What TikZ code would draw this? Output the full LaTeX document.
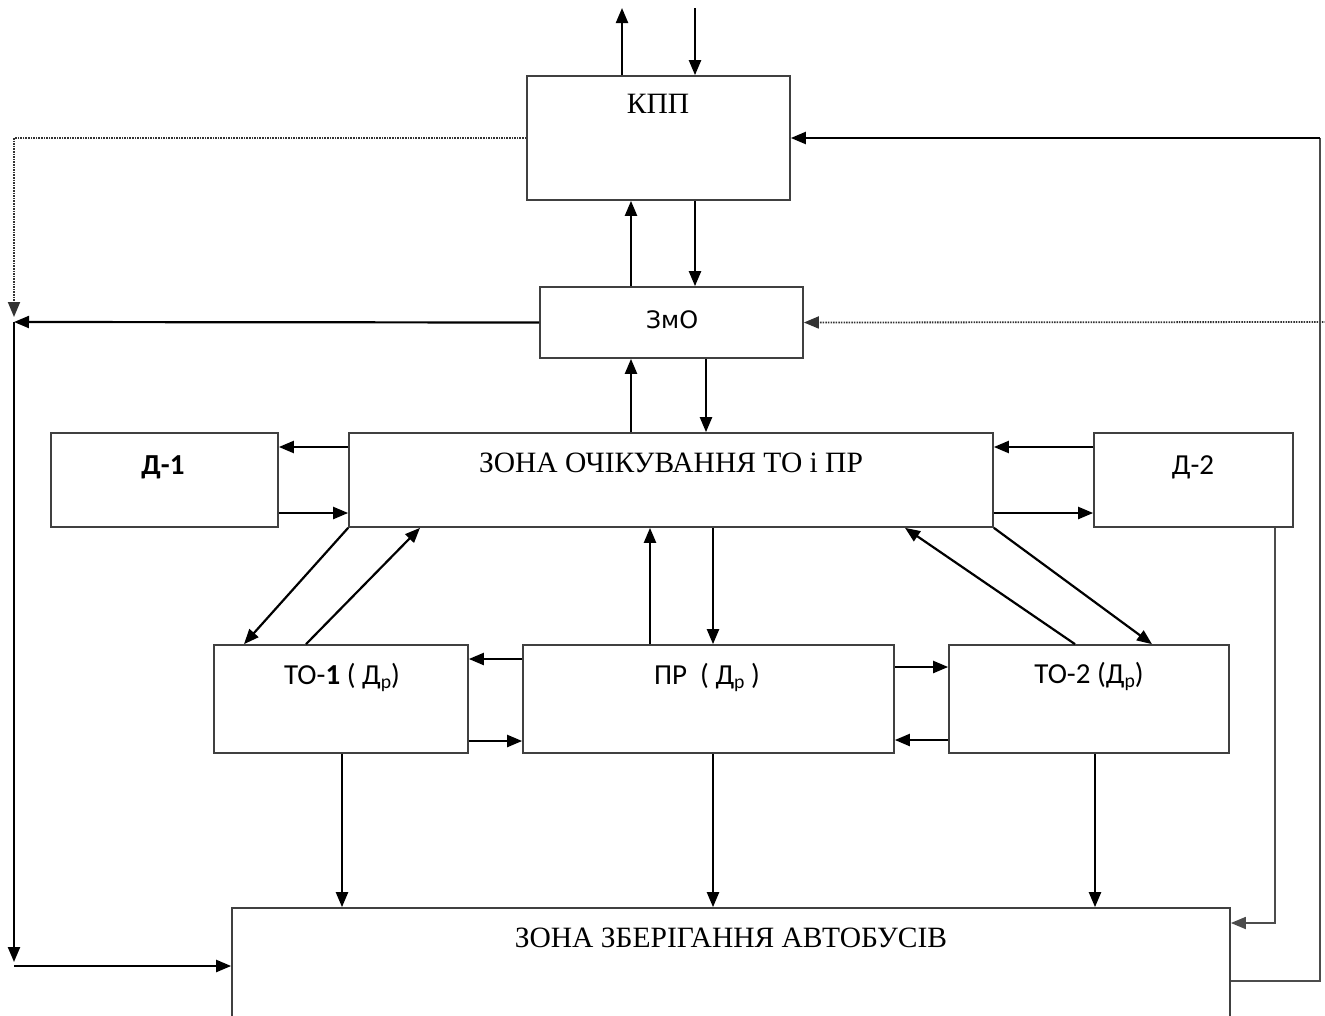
\documentclass[tikz,border=0pt]{standalone}
\usepackage{fontspec}
\setmainfont{Liberation Serif}
\newfontfamily\carl{Carlito}
\newfontfamily\dvs{DejaVu Sans}
\usetikzlibrary{arrows.meta}
\newcommand\subr{\raisebox{-0.14em}{\scalebox{0.68}{р}}}
\begin{document}
\begin{tikzpicture}[x=1pt,y=-1pt,
  box/.style={draw=black!75, line width=1.7pt, fill=white, inner sep=0pt},
  arr/.style={line width=2.2pt, -{Triangle[length=15pt,width=12pt]}},
  dotarr/.style={line width=1.8pt, dash pattern=on 1.5pt off 1.1pt, -{Triangle[length=15pt,width=12pt]}, color=black!80},
  grayarr/.style={line width=1.7pt, draw=black!70, -{Triangle[length=15pt,width=12pt]}},
  serif/.style={font=\fontsize{29.5}{34}\selectfont, anchor=base, inner sep=0pt},
  sans/.style={font=\carl\fontsize{29}{34}\selectfont, anchor=base, inner sep=0pt},
  zsans/.style={font=\dvs\fontsize{24}{28}\selectfont, anchor=base, inner sep=0pt}]
\useasboundingbox (0,0) rectangle (1325,1015);
\clip (0,0) rectangle (1325,1015);
\fill[white] (0,0) rectangle (1325,1015);

% boxes
\node[box, minimum width=263pt, minimum height=124pt] (kpp) at (658.5,138) {};
\node[box, minimum width=263pt, minimum height=71pt] (zmo) at (671.5,322.5) {};
\node[box, minimum width=644pt, minimum height=94pt] (zoc) at (671,480) {};
\node[box, minimum width=227pt, minimum height=94pt] (d1) at (164.5,480) {};
\node[box, minimum width=199pt, minimum height=94pt] (d2) at (1193.5,480) {};
\node[box, minimum width=254pt, minimum height=108pt] (to1) at (341,699) {};
\node[box, minimum width=371pt, minimum height=108pt] (pr) at (708.5,699) {};
\node[box, minimum width=280pt, minimum height=108pt] (to2) at (1089,699) {};
\node[box, minimum width=998pt, minimum height=160pt] (zz) at (731,988) {};

% texts
\node[serif] (tkpp) at (658,113) {КПП};
\node[zsans] (tzmo) at (672,328) {ЗмО};
\node[serif] (tzoc) at (671,472) {ЗОНА ОЧІКУВАННЯ ТО і ПР};
\node[sans] (td1) at (163,474) {\bfseries Д-1};
\node[sans] (td2) at (1193,474) {Д-2};
\node[sans] (tto1) at (342,684) {ТО-\textbf{1} ( Д\subr)};
\node[sans] (tpr) at (707,684) {ПР~~( Д\subr\ )};
\node[sans] (tto2) at (1089,683) {ТО-2 (Д\subr)};
\node[serif] (tzz) at (731,947) {ЗОНА ЗБЕРІГАННЯ АВТОБУСІВ};

% free ends
\coordinate (outtop) at (622,8);
\coordinate (intop) at (695,8);
\coordinate (rdot) at (1326,322);
\coordinate (lc) at (14,322);
\coordinate (lb) at (14,962);
\coordinate (lh) at (14,966);

% top
\draw[arr] (622,0 |- kpp.north) -- (outtop);
\draw[arr] (intop) -- (695,0 |- kpp.north);

% kpp - zmo
\draw[arr] (631,0 |- zmo.north) -- (631,0 |- kpp.south);
\draw[arr] (695,0 |- kpp.south) -- (695,0 |- zmo.north);

% zmo - zone
\draw[arr] (631,0 |- zoc.north) -- (631,0 |- zmo.south);
\draw[arr] (706,0 |- zmo.south) -- (706,0 |- zoc.north);

% left side
\draw[dotarr] (kpp.west) -- (14,0 |- kpp.west) -- (14,317);
\draw[arr] (zmo.west) -- (lc);
\draw[arr] (lc) -- (lb);
\draw[arr] (lh) -- (zz.west |- lh);

% right side
\draw[dotarr] (rdot) -- (zmo.east);
\draw[line width=1.7pt, draw=black!70] (zz.east |- 0,981) -- (1320,981) -- (1320,0 |- kpp.east);
\draw[arr] (1320,0 |- kpp.east) -- (kpp.east);
\draw[grayarr] (1275,0 |- d2.south) -- (1275,923) -- (zz.east |- 0,923);

% D-1, D-2
\draw[arr] (zoc.west |- 0,447) -- (d1.east |- 0,447);
\draw[arr] (d1.east |- 0,513) -- (zoc.west |- 0,513);
\draw[arr] (d2.west |- 0,447) -- (zoc.east |- 0,447);
\draw[arr] (zoc.east |- 0,513) -- (d2.west |- 0,513);

% diagonals
\draw[arr] (zoc.south west) -- (244,0 |- to1.north);
\draw[arr] (306,0 |- to1.north) -- (420,0 |- zoc.south);
\draw[arr] (1075,0 |- to2.north) -- (905,0 |- zoc.south);
\draw[arr] (zoc.south east) -- (1152,0 |- to2.north);

% centre
\draw[arr] (650,0 |- pr.north) -- (650,0 |- zoc.south);
\draw[arr] (713,0 |- zoc.south) -- (713,0 |- pr.north);

% side arrows
\draw[arr] (pr.west |- 0,659) -- (to1.east |- 0,659);
\draw[arr] (to1.east |- 0,741) -- (pr.west |- 0,741);
\draw[arr] (pr.east |- 0,667) -- (to2.west |- 0,667);
\draw[arr] (to2.west |- 0,740) -- (pr.east |- 0,740);

% down to storage
\draw[arr] (342,0 |- to1.south) -- (342,0 |- zz.north);
\draw[arr] (713,0 |- pr.south) -- (713,0 |- zz.north);
\draw[arr] (1095,0 |- to2.south) -- (1095,0 |- zz.north);
\end{tikzpicture}
\end{document}
